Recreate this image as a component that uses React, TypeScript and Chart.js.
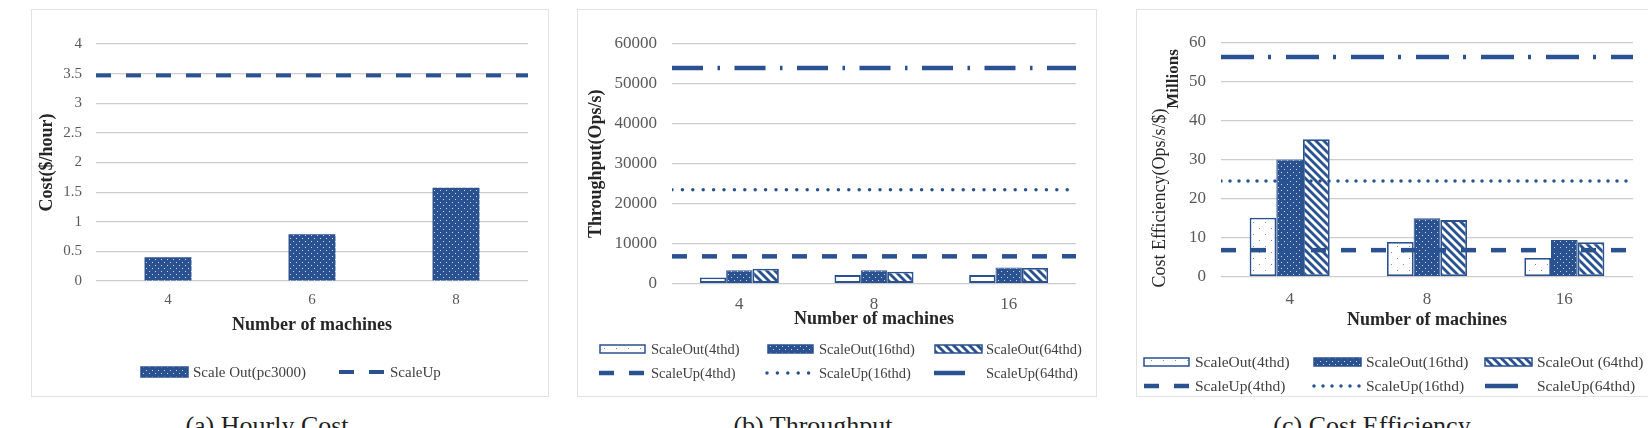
import { useEffect, useRef } from 'react';
import { Chart, registerables } from 'chart.js';

Chart.register(...registerables);

const SERIF = '"Liberation Serif", "Times New Roman", Times, serif';
const BLUE = '#2a5190';
const GRID = '#cccccc';
const TICK_COLOR = '#595959';
const TITLE_COLOR = '#262626';
const LEGEND_COLOR = '#404040';

// (a) Hourly cost
const costMachines = ['4', '6', '8'];
const costScaleOut = [0.4, 0.79, 1.575];
const costScaleUp = 3.47;

// (b) Throughput (ops/s)
const tpMachines = ['4', '8', '16'];
const tpOut4 = [1500, 2100, 2100];
const tpOut16 = [3350, 3350, 4000];
const tpOut64 = [3700, 2950, 3900];
const tpUp4 = 6800;
const tpUp16 = 23500;
const tpUp64 = 54000;

// (c) Cost efficiency (millions of ops/s/$)
const ceMachines = ['4', '8', '16'];
const ceOut4 = [15.1, 8.9, 4.8];
const ceOut16 = [30.0, 15.0, 9.4];
const ceOut64 = [35.2, 14.5, 8.8];
const ceUp4 = 6.8;
const ceUp16 = 24.5;
const ceUp64 = 56.3;

// horizontal reference line spanning the full plot width on a 0..1 axis
const flat = (v: number) => [
  { x: 0, y: v },
  { x: 1, y: v },
];

function tile(w: number, h: number, draw: (g: CanvasRenderingContext2D) => void) {
  const c = document.createElement('canvas');
  c.width = w;
  c.height = h;
  const g = c.getContext('2d')!;
  draw(g);
  return g.createPattern(c, 'repeat')!;
}

function makePatterns() {
  const dense = tile(6, 6, (g) => {
    g.fillStyle = BLUE;
    g.fillRect(0, 0, 6, 6);
    g.fillStyle = '#c9d6ec';
    g.fillRect(1, 1, 1, 1);
    g.fillRect(4, 4, 1, 1);
  });
  const sparse = tile(12, 12, (g) => {
    g.fillStyle = '#ffffff';
    g.fillRect(0, 0, 12, 12);
    g.fillStyle = '#7890bb';
    g.fillRect(3, 3, 1, 1);
    g.fillRect(9, 9, 1, 1);
  });
  const stripes = tile(8, 8, (g) => {
    g.fillStyle = '#ffffff';
    g.fillRect(0, 0, 8, 8);
    g.strokeStyle = BLUE;
    g.lineWidth = 2.8;
    for (const x0 of [-8, 0, 8]) {
      g.beginPath();
      g.moveTo(x0 - 2, -2);
      g.lineTo(x0 + 10, 10);
      g.stroke();
    }
  });
  return { dense, sparse, stripes };
}

type LegendItem = { set: any; x: number; y: number; w: number; tx: number };

function legendPlugin(items: LegendItem[], fontSize: number, boxH: number) {
  return {
    id: 'panelLegend',
    afterDraw(chart: any) {
      const ctx: CanvasRenderingContext2D = chart.ctx;
      ctx.save();
      for (const it of items) {
        const ds = it.set;
        if (ds.type === 'line') {
          ctx.strokeStyle = ds.borderColor;
          ctx.lineWidth = ds.borderWidth;
          ctx.setLineDash(ds.borderDash || []);
          ctx.lineCap = ds.borderCapStyle || 'butt';
          ctx.beginPath();
          ctx.moveTo(it.x, it.y);
          ctx.lineTo(it.x + it.w, it.y);
          ctx.stroke();
        } else {
          ctx.setLineDash([]);
          ctx.fillStyle = ds.backgroundColor;
          ctx.fillRect(it.x, it.y - boxH / 2, it.w, boxH);
          ctx.strokeStyle = ds.borderColor;
          ctx.lineWidth = 1.5;
          ctx.strokeRect(it.x, it.y - boxH / 2, it.w, boxH);
        }
        ctx.setLineDash([]);
        ctx.fillStyle = LEGEND_COLOR;
        ctx.font = `${fontSize}px ${SERIF}`;
        ctx.textAlign = 'left';
        ctx.textBaseline = 'middle';
        ctx.fillText(ds.label, it.tx, it.y + 1);
      }
      ctx.restore();
    },
  };
}

const efficiencyTitles = {
  id: 'efficiencyTitles',
  afterDraw(chart: any) {
    const ctx: CanvasRenderingContext2D = chart.ctx;
    ctx.save();
    ctx.textAlign = 'center';
    ctx.textBaseline = 'middle';
    ctx.fillStyle = TITLE_COLOR;
    ctx.translate(24, 189);
    ctx.rotate(-Math.PI / 2);
    ctx.font = `18px ${SERIF}`;
    ctx.fillText('Cost Efficiency(Ops/s/$)', 0, 0);
    ctx.restore();
    ctx.save();
    ctx.textAlign = 'center';
    ctx.textBaseline = 'middle';
    ctx.fillStyle = TITLE_COLOR;
    ctx.translate(38, 70);
    ctx.rotate(-Math.PI / 2);
    ctx.font = `bold 17px ${SERIF}`;
    ctx.fillText('Millions', 0, 0);
    ctx.restore();
  },
};

type Frame = {
  max: number;
  step: number;
  yWidth: number;
  yPad: number;
  yTitle: string | null;
  yTitlePad: number;
  tickSize: number;
  xPad: number;
  xHeight: number;
  padding: { top: number; right: number; bottom: number; left: number };
};

const baseOptions = {
  responsive: false,
  animation: false,
  events: [],
  plugins: { legend: { display: false }, tooltip: { enabled: false } },
};

// bar chart with all visible axes, grid and titles
function barOptions(f: Frame) {
  return {
    ...baseOptions,
    layout: { padding: f.padding },
    scales: {
      x: {
        type: 'category',
        offset: true,
        grid: { display: false, drawTicks: false },
        border: { display: false },
        ticks: {
          padding: f.xPad,
          color: TICK_COLOR,
          font: { family: SERIF, size: f.tickSize },
          maxRotation: 0,
        },
        title: {
          display: true,
          text: 'Number of machines',
          color: TITLE_COLOR,
          font: { family: SERIF, size: 18, weight: 'bold' },
          padding: { top: 0, bottom: 0 },
        },
        afterFit: (s: any) => {
          s.height = f.xHeight;
        },
      },
      y: {
        min: 0,
        max: f.max,
        grid: { color: GRID, lineWidth: 1.2, drawTicks: false },
        border: { display: false },
        ticks: {
          stepSize: f.step,
          padding: f.yPad,
          color: TICK_COLOR,
          font: { family: SERIF, size: f.tickSize },
          callback: (v: any) => String(v),
        },
        title: {
          display: !!f.yTitle,
          text: f.yTitle || '',
          color: TITLE_COLOR,
          font: { family: SERIF, size: 18, weight: 'bold' },
          padding: { top: f.yTitlePad, bottom: 0 },
        },
        afterFit: (s: any) => {
          s.width = f.yWidth;
        },
      },
    },
  };
}

// overlay for the scale-up reference lines: same plot frame, invisible axes
function lineOptions(f: Frame) {
  return {
    ...baseOptions,
    layout: { padding: f.padding },
    scales: {
      x: {
        type: 'linear',
        min: 0,
        max: 1,
        offset: false,
        grid: { display: false, drawTicks: false },
        border: { display: false },
        ticks: { display: false },
        afterFit: (s: any) => {
          s.height = f.xHeight;
        },
      },
      y: {
        min: 0,
        max: f.max,
        grid: { display: false, drawTicks: false },
        border: { display: false },
        ticks: { display: false },
        afterFit: (s: any) => {
          s.width = f.yWidth;
        },
      },
    },
  };
}

function lineSet(label: string, v: number, dash: number[], width: number, cap = 'butt') {
  return {
    type: 'line',
    label,
    data: flat(v),
    borderColor: BLUE,
    borderWidth: width,
    borderDash: dash,
    borderCapStyle: cap,
    pointRadius: 0,
    fill: false,
  };
}

function barSet(label: string, data: number[], bg: any, border: number, pct: number) {
  return {
    type: 'bar',
    label,
    data,
    backgroundColor: bg,
    borderColor: BLUE,
    borderWidth: border,
    borderSkipped: false,
    barPercentage: 1,
    categoryPercentage: pct,
  };
}

export default function App() {
  const aRef = useRef<HTMLCanvasElement>(null);
  const aLineRef = useRef<HTMLCanvasElement>(null);
  const bRef = useRef<HTMLCanvasElement>(null);
  const bLineRef = useRef<HTMLCanvasElement>(null);
  const cRef = useRef<HTMLCanvasElement>(null);
  const cLineRef = useRef<HTMLCanvasElement>(null);

  useEffect(() => {
    const p = makePatterns();
    const charts: Chart[] = [];

    // (a) hourly cost
    const aFrame: Frame = {
      max: 4,
      step: 0.5,
      yWidth: 65,
      yPad: 14,
      yTitle: 'Cost($/hour)',
      yTitlePad: 6,
      tickSize: 15,
      xPad: 10,
      xHeight: 54.8,
      padding: { top: 35, right: 21, bottom: 61.2, left: 0 },
    };
    const aBars = [barSet('Scale Out(pc3000)', costScaleOut, p.dense, 0, 0.326)];
    const aLines = [lineSet('ScaleUp', costScaleUp, [15, 15], 4)];
    charts.push(
      new Chart(aRef.current!, {
        type: 'bar',
        data: { labels: costMachines, datasets: aBars },
        options: barOptions(aFrame),
        plugins: [
          legendPlugin(
            [
              { set: aBars[0], x: 110, y: 363, w: 47, tx: 162 },
              { set: aLines[0], x: 308, y: 363, w: 47, tx: 359 },
            ],
            15,
            10
          ),
        ],
      } as any)
    );
    charts.push(
      new Chart(aLineRef.current!, {
        type: 'line',
        data: { datasets: aLines },
        options: lineOptions(aFrame),
      } as any)
    );

    // (b) throughput
    const bFrame: Frame = {
      max: 60000,
      step: 10000,
      yWidth: 95,
      yPad: 15,
      yTitle: 'Throughput(Ops/s)',
      yTitlePad: 8.7,
      tickSize: 17,
      xPad: 11.3,
      xHeight: 46.3,
      padding: { top: 35, right: 21, bottom: 67.2, left: 0 },
    };
    const bBars = [
      barSet('ScaleOut(4thd)', tpOut4, p.sparse, 1.8, 0.587),
      barSet('ScaleOut(16thd)', tpOut16, p.dense, 1, 0.587),
      barSet('ScaleOut(64thd)', tpOut64, p.stripes, 1.8, 0.587),
    ];
    const bLines = [
      lineSet('ScaleUp(4thd)', tpUp4, [15, 15], 4.5),
      lineSet('ScaleUp(16thd)', tpUp16, [0, 10.4], 3.5, 'round'),
      lineSet('ScaleUp(64thd)', tpUp64, [31, 14.5, 2.5, 14.5], 4.5),
    ];
    charts.push(
      new Chart(bRef.current!, {
        type: 'bar',
        data: { labels: tpMachines, datasets: bBars },
        options: barOptions(bFrame),
        plugins: [
          legendPlugin(
            [
              { set: bBars[0], x: 23, y: 340, w: 45, tx: 74 },
              { set: bBars[1], x: 191, y: 340, w: 45, tx: 242 },
              { set: bBars[2], x: 358, y: 340, w: 47, tx: 409 },
              { set: bLines[0], x: 22, y: 364, w: 46, tx: 74 },
              { set: bLines[1], x: 190, y: 364, w: 46, tx: 242 },
              { set: bLines[2], x: 357, y: 364, w: 33, tx: 409 },
            ],
            14.5,
            8
          ),
        ],
      } as any)
    );
    charts.push(
      new Chart(bLineRef.current!, {
        type: 'line',
        data: { datasets: bLines },
        options: lineOptions(bFrame),
      } as any)
    );

    // (c) cost efficiency
    const cFrame: Frame = {
      max: 60,
      step: 10,
      yWidth: 85,
      yPad: 15,
      yTitle: null,
      yTitlePad: 0,
      tickSize: 17,
      xPad: 13.1,
      xHeight: 54.1,
      padding: { top: 33.5, right: 15, bottom: 66.2, left: 0 },
    };
    const cBars = [
      barSet('ScaleOut(4thd)', ceOut4, p.sparse, 1.8, 0.583),
      barSet('ScaleOut(16thd)', ceOut16, p.dense, 1, 0.583),
      barSet('ScaleOut (64thd)', ceOut64, p.stripes, 1.8, 0.583),
    ];
    const cLines = [
      lineSet('ScaleUp(4thd)', ceUp4, [15, 15], 4.5),
      lineSet('ScaleUp(16thd)', ceUp16, [0, 9], 3.5, 'round'),
      lineSet('ScaleUp(64thd)', ceUp64, [33, 14, 3, 15], 4.5),
    ];
    charts.push(
      new Chart(cRef.current!, {
        type: 'bar',
        data: { labels: ceMachines, datasets: cBars },
        options: barOptions(cFrame),
        plugins: [
          efficiencyTitles,
          legendPlugin(
            [
              { set: cBars[0], x: 8, y: 353, w: 45, tx: 59 },
              { set: cBars[1], x: 178, y: 353, w: 47, tx: 230 },
              { set: cBars[2], x: 349, y: 353, w: 47, tx: 401 },
              { set: cLines[0], x: 8, y: 377, w: 46, tx: 59 },
              { set: cLines[1], x: 178, y: 377, w: 47, tx: 230 },
              { set: cLines[2], x: 349, y: 377, w: 34, tx: 401 },
            ],
            15.5,
            8
          ),
        ],
      } as any)
    );
    charts.push(
      new Chart(cLineRef.current!, {
        type: 'line',
        data: { datasets: cLines },
        options: lineOptions(cFrame),
      } as any)
    );

    return () => {
      charts.forEach((c) => c.destroy());
    };
  }, []);

  const box = (left: number, width: number): React.CSSProperties => ({
    position: 'absolute',
    left,
    top: 9,
    width,
    height: 388,
    border: '1px solid #e2e2e2',
    boxSizing: 'border-box',
    background: '#fff',
  });
  const canvasStyle = (left: number): React.CSSProperties => ({
    position: 'absolute',
    left,
    top: 9,
  });
  const caption = (center: number): React.CSSProperties => ({
    position: 'absolute',
    left: center - 150,
    width: 300,
    top: 413,
    textAlign: 'center',
    fontFamily: SERIF,
    fontSize: 26,
    lineHeight: '26px',
    color: '#222',
    whiteSpace: 'nowrap',
  });

  return (
    <div
      style={{
        position: 'absolute',
        left: 0,
        top: 0,
        width: 1648,
        height: 428,
        overflow: 'hidden',
        background: '#fff',
      }}
    >
      <div style={box(31, 518)} />
      <div style={box(577, 520)} />
      <div style={box(1136, 540)} />
      <canvas ref={aRef} width={518} height={388} style={canvasStyle(31)} />
      <canvas ref={aLineRef} width={518} height={388} style={canvasStyle(31)} />
      <canvas ref={bRef} width={520} height={388} style={canvasStyle(577)} />
      <canvas ref={bLineRef} width={520} height={388} style={canvasStyle(577)} />
      <canvas ref={cRef} width={512} height={388} style={canvasStyle(1136)} />
      <canvas ref={cLineRef} width={512} height={388} style={canvasStyle(1136)} />
      <div style={caption(267)}>(a) Hourly Cost</div>
      <div style={caption(813)}>(b) Throughput</div>
      <div style={caption(1372)}>(c) Cost Efficiency</div>
    </div>
  );
}
